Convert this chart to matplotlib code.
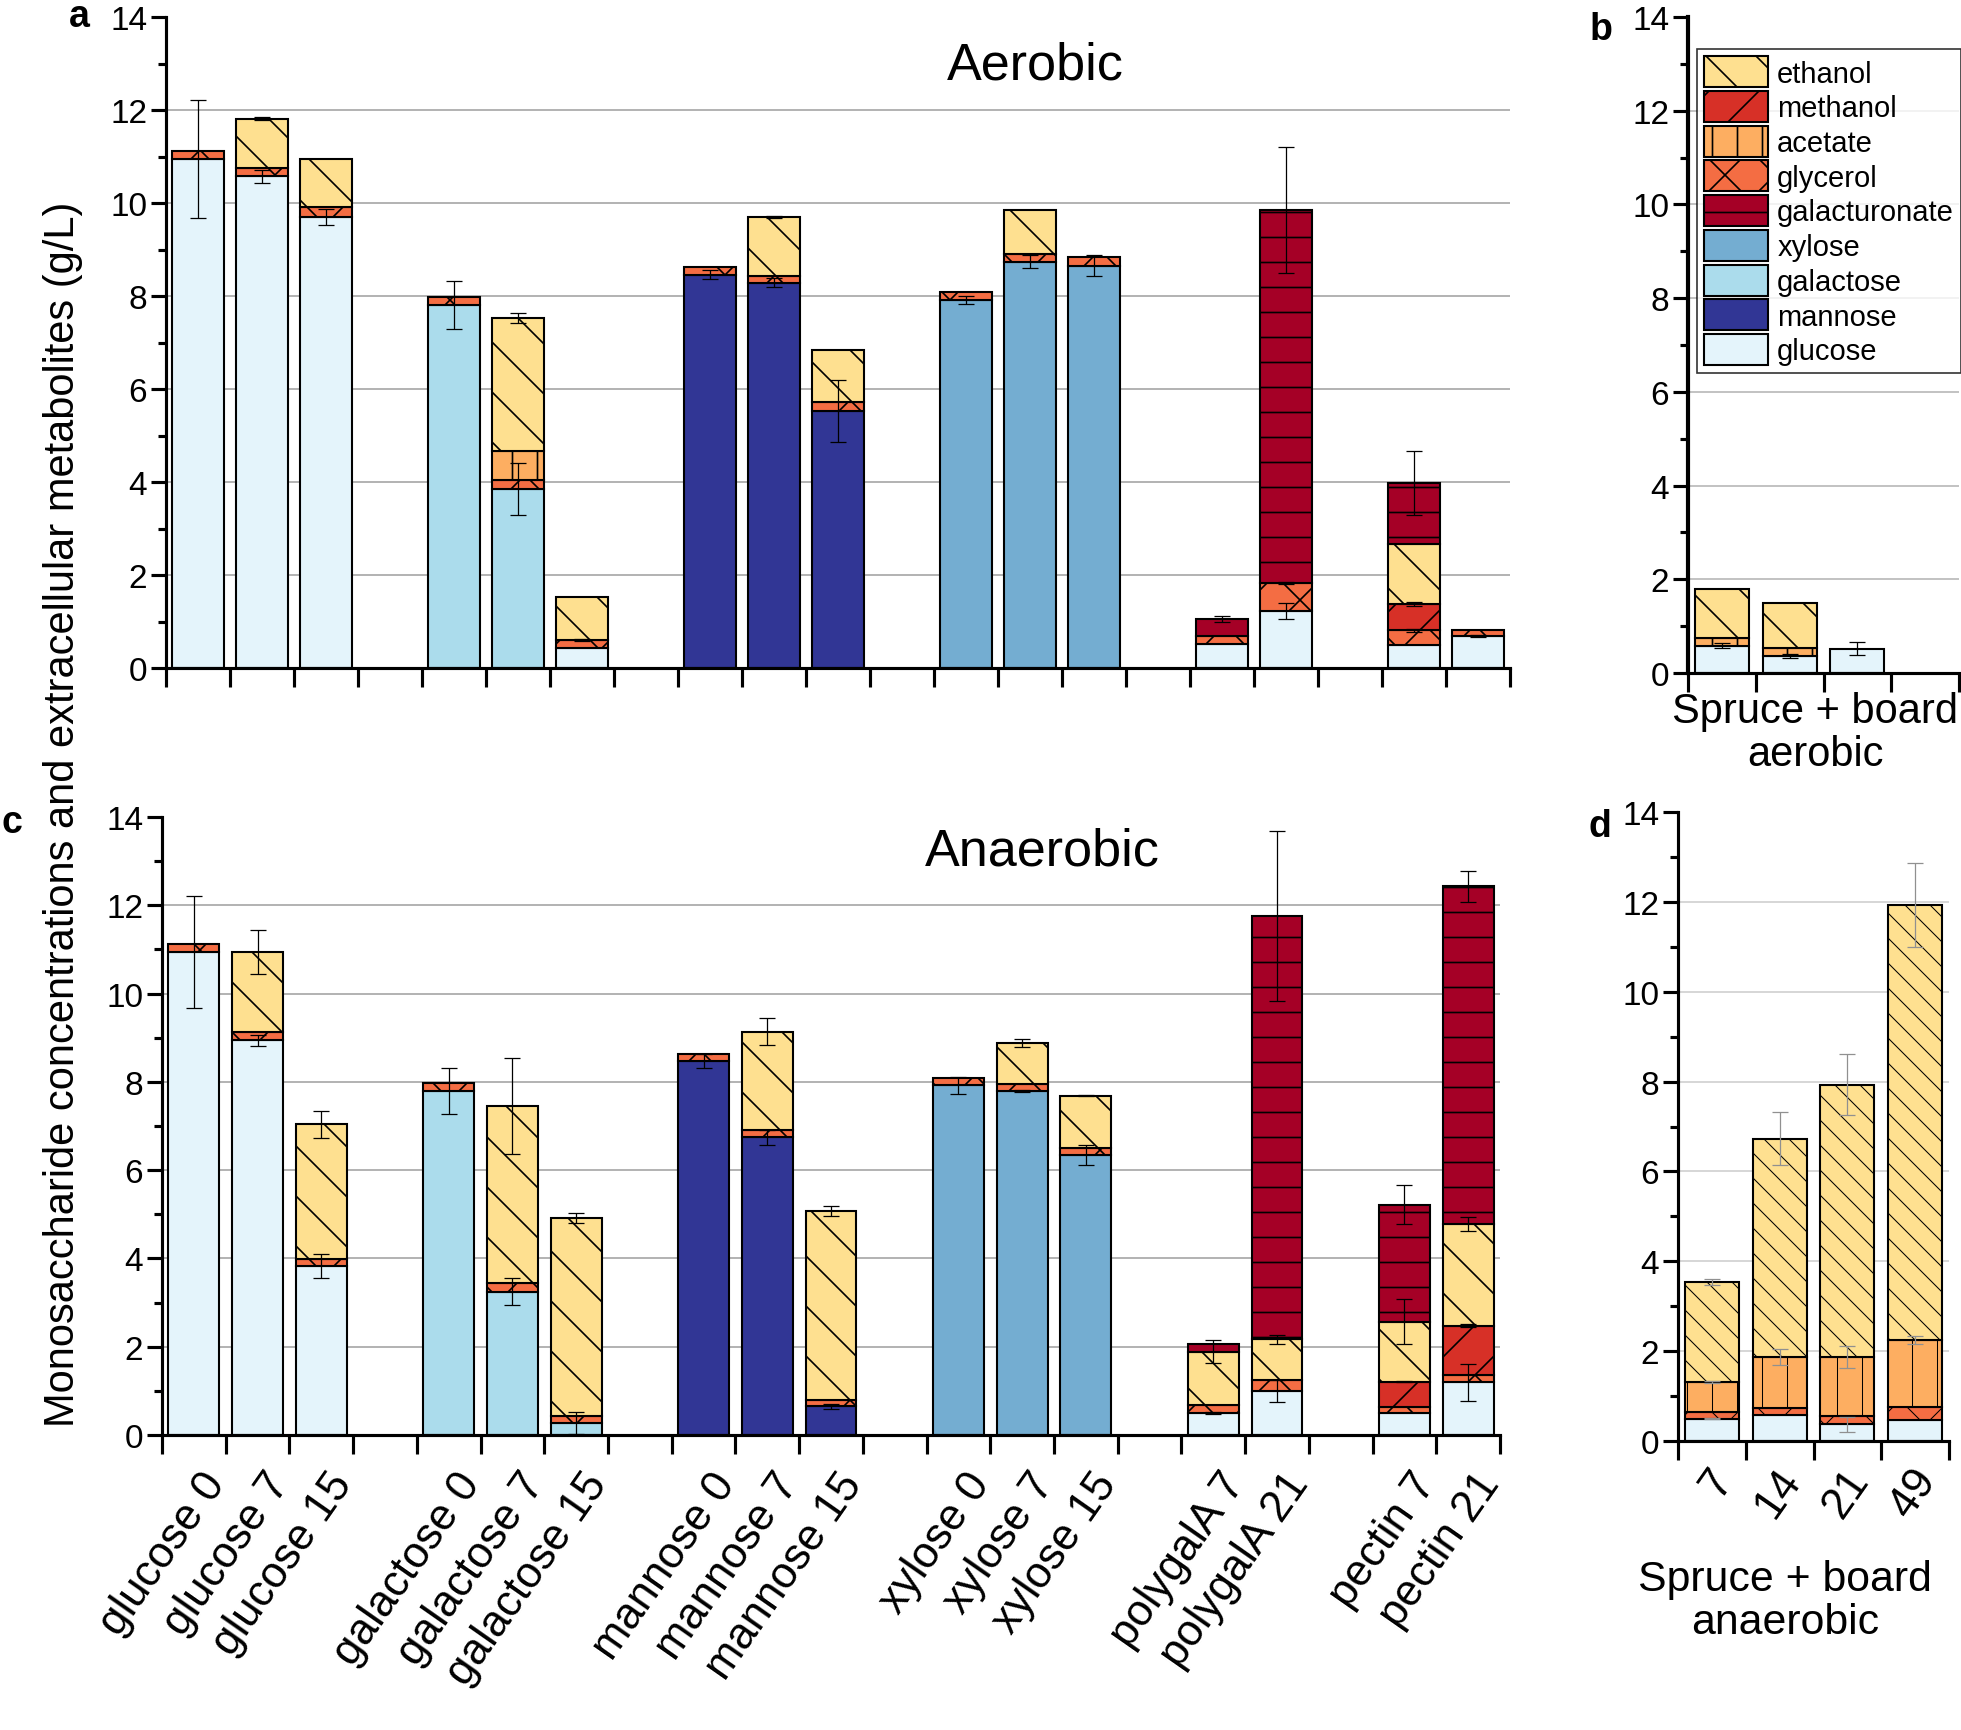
import numpy as np
import matplotlib.pyplot as plt
import matplotlib.transforms as mtransforms
from matplotlib.patches import Patch
from matplotlib.ticker import MultipleLocator

plt.rcParams['font.family'] = ['Liberation Sans', 'DejaVu Sans']
plt.rcParams['hatch.linewidth'] = 0.8

W, H = 1961, 1731

# categories of panels a and c
groups = ['glucose', 'galactose', 'mannose', 'xylose', 'polygalA', 'pectin']
days = [['0', '7', '15'], ['0', '7', '15'], ['0', '7', '15'], ['0', '7', '15'],
        ['7', '21'], ['7', '21']]

# stacking order (bottom to top) and legend order
components = ['glucose', 'galactose', 'mannose', 'xylose', 'glycerol',
              'acetate', 'methanol', 'ethanol', 'galacturonate']
legend_order = ['ethanol', 'methanol', 'acetate', 'glycerol', 'galacturonate',
                'xylose', 'galactose', 'mannose', 'glucose']
colors = {'glucose': '#e4f4fb', 'galactose': '#abdcec', 'mannose': '#313695',
          'xylose': '#74add1', 'glycerol': '#f46d43', 'acetate': '#fdae61',
          'methanol': '#d73027', 'ethanol': '#fee090', 'galacturonate': '#a50026'}
hatches = {'glucose': '', 'galactose': '', 'mannose': '', 'xylose': '',
           'glycerol': 'x', 'acetate': '|', 'methanol': '/', 'ethanol': '\\',
           'galacturonate': '-'}

# ---- panel a: aerobic, segment heights (g/L), 16 bars
aer_glucose = [10.94, 10.57, 9.70, 0, 0, 0.43, 0, 0, 0, 0, 0, 0, 0.52, 1.22, 0.50, 0.69]
aer_galactose = [0, 0, 0, 7.80, 3.85, 0, 0, 0, 0, 0, 0, 0, 0, 0, 0, 0]
aer_mannose = [0, 0, 0, 0, 0, 0, 8.46, 8.29, 5.52, 0, 0, 0, 0, 0, 0, 0]
aer_xylose = [0, 0, 0, 0, 0, 0, 0, 0, 0, 7.92, 8.74, 8.65, 0, 0, 0, 0]
aer_glycerol = [0.17, 0.18, 0.21, 0.17, 0.19, 0.17, 0.16, 0.15, 0.19, 0.17, 0.17, 0.18, 0.17, 0.61, 0.31, 0.13]
aer_acetate = [0, 0, 0, 0, 0.62, 0, 0, 0, 0, 0, 0, 0, 0, 0, 0, 0]
aer_methanol = [0, 0, 0, 0, 0, 0, 0, 0, 0, 0, 0, 0, 0, 0, 0.57, 0]
aer_ethanol = [0, 1.06, 1.04, 0, 2.87, 0.93, 0, 1.26, 1.13, 0, 0.94, 0, 0, 0, 1.28, 0]
aer_galacturonate = [0, 0, 0, 0, 0, 0, 0, 0, 0, 0, 0, 0, 0.36, 8.02, 1.32, 0]

aer_err_glucose = [1.27, 0.14, 0.17, 0, 0, 0, 0, 0, 0, 0, 0, 0, 0, 0.17, 0, 0.02]
aer_err_galactose = [0, 0, 0, 0.52, 0.55, 0, 0, 0, 0, 0, 0, 0, 0, 0, 0, 0]
aer_err_mannose = [0, 0, 0, 0, 0, 0, 0.09, 0.10, 0.67, 0, 0, 0, 0, 0, 0, 0]
aer_err_xylose = [0, 0, 0, 0, 0, 0, 0, 0, 0, 0.09, 0.14, 0.23, 0, 0, 0, 0]
aer_err_glycerol = [0, 0, 0, 0, 0, 0.03, 0, 0, 0, 0, 0, 0, 0, 0.02, 0.03, 0]
aer_err_methanol = [0, 0, 0, 0, 0, 0, 0, 0, 0, 0, 0, 0, 0, 0, 0.05, 0]
aer_err_ethanol = [0, 0.03, 0, 0, 0.10, 0, 0, 0.03, 0, 0, 0, 0, 0, 0, 0, 0]
aer_err_galacturonate = [0, 0, 0, 0, 0, 0, 0, 0, 0, 0, 0, 0, 0.07, 1.35, 0.69, 0]

# ---- panel c: anaerobic
ana_glucose = [10.94, 8.94, 3.83, 0, 0, 0, 0, 0, 0, 0, 0, 0, 0.49, 1.00, 0.49, 1.19]
ana_galactose = [0, 0, 0, 7.80, 3.25, 0.27, 0, 0, 0, 0, 0, 0, 0, 0, 0, 0]
ana_mannose = [0, 0, 0, 0, 0, 0, 8.47, 6.74, 0.65, 0, 0, 0, 0, 0, 0, 0]
ana_xylose = [0, 0, 0, 0, 0, 0, 0, 0, 0, 7.92, 7.79, 6.35, 0, 0, 0, 0]
ana_glycerol = [0.18, 0.19, 0.16, 0.18, 0.20, 0.16, 0.16, 0.16, 0.14, 0.17, 0.17, 0.15, 0.18, 0.24, 0.14, 0.17]
ana_methanol = [0, 0, 0, 0, 0, 0, 0, 0, 0, 0, 0, 0, 0, 0, 0.58, 1.12]
ana_ethanol = [0, 1.81, 3.05, 0, 4.00, 4.49, 0, 2.24, 4.29, 0, 0.92, 1.19, 1.22, 0.93, 1.36, 2.30]
ana_galacturonate = [0, 0, 0, 0, 0, 0, 0, 0, 0, 0, 0, 0, 0.18, 9.59, 2.65, 7.65]

ana_err_glucose = [1.27, 0.13, 0.28, 0, 0, 0, 0, 0, 0, 0, 0, 0, 0.02, 0.25, 0, 0.42]
ana_err_galactose = [0, 0, 0, 0.52, 0.31, 0.25, 0, 0, 0, 0, 0, 0, 0, 0, 0, 0]
ana_err_mannose = [0, 0, 0, 0, 0, 0, 0.15, 0.16, 0.05, 0, 0, 0, 0, 0, 0, 0]
ana_err_xylose = [0, 0, 0, 0, 0, 0, 0, 0, 0, 0.19, 0.03, 0.23, 0, 0, 0, 0]
ana_err_methanol = [0, 0, 0, 0, 0, 0, 0, 0, 0, 0, 0, 0, 0, 0, 0.02, 0.03]
ana_err_ethanol = [0, 0.50, 0.31, 0, 1.08, 0.11, 0, 0.30, 0.11, 0, 0.10, 0.02, 0.27, 0.10, 0.50, 0.15]
ana_err_galacturonate = [0, 0, 0, 0, 0, 0, 0, 0, 0, 0, 0, 0, 0, 1.92, 0.45, 0.35]

# ---- panel b: spruce + board aerobic
b_glucose = [0.58, 0.37, 0.52]
b_acetate = [0.17, 0.16, 0]
b_ethanol = [1.05, 0.97, 0]
b_err_glucose = [0.05, 0.04, 0.14]

# ---- panel d: spruce + board anaerobic
d_days = ['7', '14', '21', '49']
d_glucose = [0.50, 0.57, 0.37, 0.47]
d_glycerol = [0.15, 0.17, 0.19, 0.28]
d_acetate = [0.66, 1.13, 1.31, 1.49]
d_ethanol = [2.23, 4.86, 6.06, 9.69]
d_err_glucose = [0.02, 0, 0.17, 0]
d_err_acetate = [0.03, 0.17, 0.25, 0.09]
d_err_ethanol = [0.06, 0.59, 0.68, 0.94]


def draw_stack(ax, x, seg, err, ecolor='black', hatch_map=hatches):
    x = np.asarray(x, dtype=float)
    bottom = np.zeros(len(x))
    for comp in components:
        if comp not in seg:
            continue
        h = np.array(seg[comp], dtype=float)
        m = h > 0
        ax.bar(x[m], h[m], width=0.8, bottom=bottom[m], color=colors[comp],
               hatch=hatch_map[comp], edgecolor='black', linewidth=1.0, zorder=2)
        bottom = bottom + h
        if comp in err:
            e = np.array(err[comp], dtype=float)
            k = e > 0
            ax.errorbar(x[k], bottom[k], yerr=e[k], fmt='none', ecolor=ecolor,
                        elinewidth=0.6, capsize=4, capthick=0.6, zorder=3)


def style(ax, nslots, gridcolor='#a6a6a6'):
    ax.set_xlim(0, nslots)
    ax.set_ylim(0, 14)
    ax.spines['top'].set_visible(False)
    ax.spines['right'].set_visible(False)
    ax.spines['left'].set_linewidth(1.5)
    ax.spines['bottom'].set_linewidth(1.5)
    ax.set_xticks(np.arange(nslots + 1))
    ax.set_xticklabels([])
    ax.tick_params(axis='x', direction='out', length=9, width=1.5)
    ax.yaxis.set_major_locator(MultipleLocator(2))
    ax.yaxis.set_minor_locator(MultipleLocator(1))
    ax.tick_params(axis='y', which='major', direction='out', length=7, width=1.5,
                   labelsize=16, pad=2)
    ax.tick_params(axis='y', which='minor', direction='out', length=4, width=1.5)
    for y in range(2, 14, 2):
        ax.axhline(y, color=gridcolor, lw=0.8, zorder=0)


# bar positions: groups separated by one empty slot
pos, labels = [], []
slot = 0
for gi, (g, dd) in enumerate(zip(groups, days)):
    if gi > 0:
        slot += 1
    for d in dd:
        pos.append(slot + 0.5)
        labels.append(f'{g} {d}')
        slot += 1
nslots = slot

fig = plt.figure(figsize=(W / 150, H / 150), dpi=150)
ax_a = fig.add_axes([166 / W, 1 - 669 / H, 1344 / W, 651 / H])
ax_b = fig.add_axes([1688 / W, 1 - 674 / H, 271 / W, 656 / H])
ax_c = fig.add_axes([162 / W, 1 - 1436 / H, 1338 / W, 618 / H])
ax_d = fig.add_axes([1678 / W, 1 - 1442 / H, 271 / W, 629 / H])

aer = {'glucose': aer_glucose, 'galactose': aer_galactose, 'mannose': aer_mannose,
       'xylose': aer_xylose, 'glycerol': aer_glycerol, 'acetate': aer_acetate,
       'methanol': aer_methanol, 'ethanol': aer_ethanol, 'galacturonate': aer_galacturonate}
aer_err = {'glucose': aer_err_glucose, 'galactose': aer_err_galactose,
           'mannose': aer_err_mannose, 'xylose': aer_err_xylose,
           'glycerol': aer_err_glycerol, 'methanol': aer_err_methanol,
           'ethanol': aer_err_ethanol, 'galacturonate': aer_err_galacturonate}
ana = {'glucose': ana_glucose, 'galactose': ana_galactose, 'mannose': ana_mannose,
       'xylose': ana_xylose, 'glycerol': ana_glycerol, 'methanol': ana_methanol,
       'ethanol': ana_ethanol, 'galacturonate': ana_galacturonate}
ana_err = {'glucose': ana_err_glucose, 'galactose': ana_err_galactose,
           'mannose': ana_err_mannose, 'xylose': ana_err_xylose,
           'methanol': ana_err_methanol, 'ethanol': ana_err_ethanol,
           'galacturonate': ana_err_galacturonate}

style(ax_a, nslots)
draw_stack(ax_a, pos, aer, aer_err)
style(ax_c, nslots)
draw_stack(ax_c, pos, ana, ana_err)

style(ax_b, 4, gridcolor='#b8b8b8')
draw_stack(ax_b, np.arange(3) + 0.5,
           {'glucose': b_glucose, 'acetate': b_acetate, 'ethanol': b_ethanol},
           {'glucose': b_err_glucose})
ax_b.spines['left'].set_linewidth(2.0)

# panel d has a finer, thinner hatch
style(ax_d, 4, gridcolor='#d0d0d0')
d_hatches = dict(hatches, ethanol='\\\\')
with plt.rc_context({'hatch.linewidth': 0.5}):
    draw_stack(ax_d, np.arange(4) + 0.5,
               {'glucose': d_glucose, 'glycerol': d_glycerol, 'acetate': d_acetate,
                'ethanol': d_ethanol},
               {'glucose': d_err_glucose, 'acetate': d_err_acetate,
                'ethanol': d_err_ethanol},
               ecolor='#909090', hatch_map=d_hatches)

# rotated category labels under panel c
tr = mtransforms.offset_copy(
    mtransforms.blended_transform_factory(ax_c.transData, ax_c.transAxes),
    fig=fig, x=11, y=-20, units='points')
for x, lab in zip(pos, labels):
    ax_c.text(x, 0, lab, transform=tr, rotation=55, rotation_mode='anchor',
              ha='right', va='center', fontsize=21)

tr_d = mtransforms.offset_copy(
    mtransforms.blended_transform_factory(ax_d.transData, ax_d.transAxes),
    fig=fig, x=6, y=-15, units='points')
for i, lab in enumerate(d_days):
    ax_d.text(i + 0.5, 0, lab, transform=tr_d, rotation=55, rotation_mode='anchor',
              ha='right', va='center', fontsize=21)

# legend in panel b
handles = [Patch(facecolor=colors[c], edgecolor='black', hatch=hatches[c],
                 linewidth=1.0, label=c) for c in legend_order]
leg = fig.legend(handles=handles, loc='upper left',
                 bbox_to_anchor=(1697 / W, 1 - 50 / H), bbox_transform=fig.transFigure,
                 fontsize=14, frameon=True, fancybox=False, edgecolor='black',
                 handlelength=2.2, handleheight=1.25, labelspacing=0.12,
                 handletextpad=0.3, borderpad=0.25, borderaxespad=0)
leg.get_frame().set_linewidth(0.8)

# texts
fig.text(1035 / W, 1 - 80 / H, 'Aerobic', fontsize=25, ha='center', va='baseline')
fig.text(1042 / W, 1 - 865 / H, 'Anaerobic', fontsize=25, ha='center', va='baseline')
fig.text(74 / W, 1 - 814 / H,
         'Monosaccharide concentrations and extracellular metabolites (g/L)',
         rotation=90, rotation_mode='anchor', ha='center', va='baseline', fontsize=20)
fig.text(1815 / W, 1 - 692 / H, 'Spruce + board\naerobic', fontsize=20,
         ha='center', va='top', linespacing=1.1)
fig.text(1785 / W, 1 - 1560 / H, 'Spruce + board\nanaerobic', fontsize=20.5,
         ha='center', va='top', linespacing=1.1)

for letter, x, y in [('a', 79, 27), ('b', 1601, 40), ('c', 12, 833), ('d', 1600, 837)]:
    fig.text(x / W, 1 - y / H, letter, fontsize=18, fontweight='bold',
             ha='center', va='baseline')

fig.savefig('out.png', dpi=150)
